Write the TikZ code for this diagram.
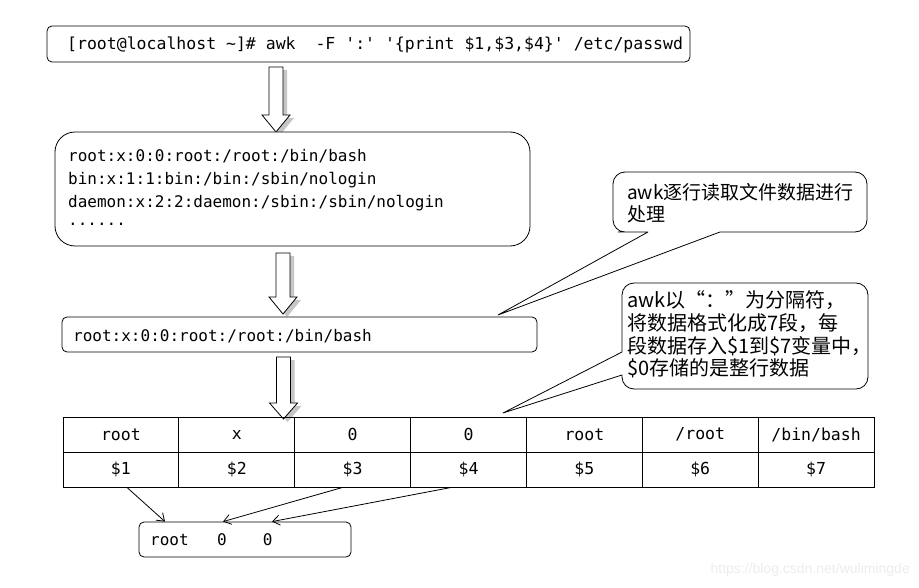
\documentclass[tikz,border=0pt]{standalone}
\usepackage{fontspec}
\setmainfont{Liberation Sans}
\newfontfamily\cjkf{Noto Sans CJK SC}
\newfontfamily\monof{DejaVu Sans Mono}
\usetikzlibrary{arrows.meta,calc}
\newcommand\hollowarrow[4]{%
  \begin{scope}[shift={(4,3)}]
    \fill[gray!45] ({#1-7},#2) -- ({#1+7},#2) -- ({#1+7},#3) -- ({#1+14},#3) -- (#1,#4) -- ({#1-14},#3) -- ({#1-7},#3) -- cycle;
  \end{scope}
  \filldraw[fill=white,line width=0.8pt,line join=miter] ({#1-7},#2) -- ({#1+7},#2) -- ({#1+7},#3) -- ({#1+14},#3) -- (#1,#4) -- ({#1-14},#3) -- ({#1-7},#3) -- cycle;}
\begin{document}
\begin{tikzpicture}[x=1pt,y=-1pt,
  box/.style={draw,line width=0.8pt,rounded corners=5pt,inner sep=0pt,fill=white},
  mono/.style={font=\monof\fontsize{16}{23}\selectfont,inner sep=0pt},
  cell/.style={draw,line width=0.8pt,minimum width=115.86pt,minimum height=35pt,inner sep=0pt,font=\monof\fontsize{16.5}{20}\selectfont},
  callout/.style={draw,line width=0.8pt,fill=white,line join=round},
  cjktext/.style={font=\cjkf\fontsize{19}{22}\selectfont,inner sep=0pt,anchor=base west},
  cjktextb/.style={font=\cjkf\fontsize{20}{23}\selectfont,inner sep=0pt,anchor=base west},
  field/.style={line width=0.8pt,-{Straight Barb[length=7pt,width=10pt]}}]
\useasboundingbox (0,0) rectangle (919,588);

% command box
\node[box,minimum width=643pt,minimum height=36pt] (cmd) at (368.5,44) {};
\node[mono,font=\monof\fontsize{16.5}{20}\selectfont,anchor=base west] (cmdtext) at (67,50)
  {[root@localhost \textasciitilde]\# awk\ \ -F ':' '\{print \$1,\$3,\$4\}' /etc/passwd};

\hollowarrow{276}{67}{115}{132}

% file box
\node[box,rounded corners=20pt,minimum width=475pt,minimum height=114pt] (file) at (292.5,189) {};
\node[mono,anchor=base west] (l1) at (68,162) {root:x:0:0:root:/root:/bin/bash};
\node[mono,anchor=base west] (l2) at (68,185) {bin:x:1:1:bin:/bin:/sbin/nologin};
\node[mono,anchor=base west] (l3) at (68,208) {daemon:x:2:2:daemon:/sbin:/sbin/nologin};
\node[mono,anchor=base west] (l4) at (68,226) {......};

\hollowarrow{283}{253}{297}{314}

% record box
\node[box,minimum width=475pt,minimum height=35pt] (rec) at (299.5,334.5) {};
\node[mono,anchor=base west] (rectext) at (73,341.5) {root:x:0:0:root:/root:/bin/bash};

\hollowarrow{283.5}{357}{403}{419}

% callout 1
\draw[callout] (648,232) -- (498,315) -- (720,232) -- (730,232) [rounded corners=12pt]
  -- (867,232) -- (867,172) -- (613,172) -- (613,232) -- (630,232) [sharp corners] -- cycle;
\node[cjktext] (c1a) at (627,200) {awk逐行读取文件数据进行};
\node[cjktext] (c1b) at (627,222) {处理};

% callout 2
\draw[callout] (622,352) -- (503,413) -- (622,375) -- (622,377) [rounded corners=12pt]
  -- (622,389) -- (868,389) -- (868,283) -- (622,283) -- (622,340) [sharp corners] -- cycle;
\node[cjktextb] (c2a) at (627,307.5) {awk以{\addfontfeature{RawFeature=+fwid}“：”}为分隔符，};
\node[cjktextb] (c2b) at (627,330.5) {将数据格式化成7段，每};
\node[cjktextb] (c2c) at (627,353.5) {段数据存入\$1到\$7变量中，};
\node[cjktextb] (c2d) at (627,375.5) {\$0存储的是整行数据};

% table
\foreach \t [count=\i] in {root,x,0,0,root,/root,/bin/bash}
  \node[cell] (t\i) at ({63+115.86*(\i-0.5)},434.5) {\t};
\foreach \t [count=\i] in {\$1,\$2,\$3,\$4,\$5,\$6,\$7}
  \node[cell] (d\i) at ({63+115.86*(\i-0.5)},469.5) {\t};

% result box
\node[box,minimum width=212pt,minimum height=35pt] (res) at (245,539.5) {};
\node[mono,anchor=base west] (restext) at (150,545) {root\hspace{28.5pt}0\hspace{36pt}0};

\draw[field] ($(d1.south)+(6,0)$) -- ($(res.north)+(-80,0)$);
\draw[field] ($(d3.south)+(-10,0)$) -- ($(res.north)+(-22,0)$);
\draw[field] ($(d4.south)+(-17,0)$) -- ($(res.north)+(27,0)$);

% watermark
\node[font=\fontsize{14}{16}\selectfont,text=gray!15,anchor=base east,inner sep=0pt] (wm) at (910,573) {https://blog.csdn.net/wulimingde};
\end{tikzpicture}
\end{document}
